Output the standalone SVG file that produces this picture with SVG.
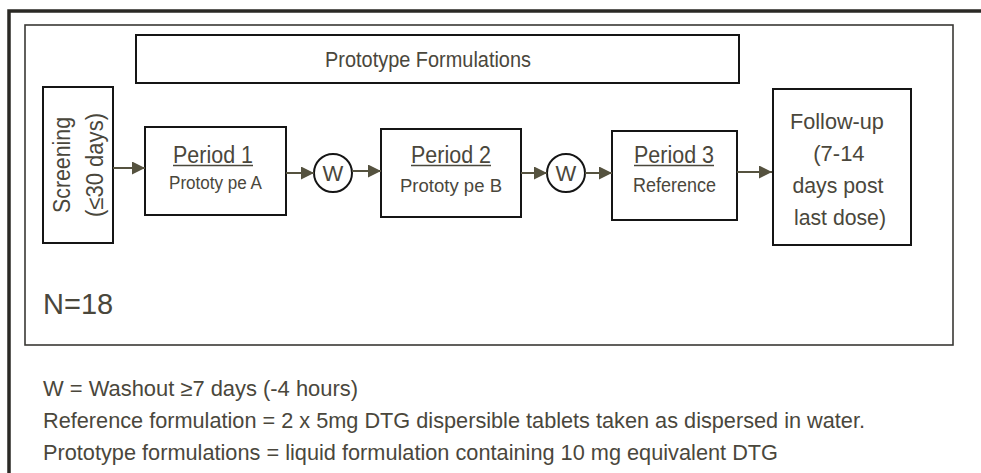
<svg xmlns="http://www.w3.org/2000/svg" width="981" height="473" viewBox="0 0 981 473">
  <style>
    .txt { font-family: "Liberation Sans", Arial, sans-serif; fill: #4a473c; }
    .box { fill: #ffffff; stroke: #151515; stroke-width: 2; }
    .lnk { stroke: #55523f; stroke-width: 2; fill: none; }
    .ul { stroke: #4a473c; stroke-width: 1.4; }
  </style>
  <defs>
    <marker id="arrow" viewBox="0 0 13 13" refX="13" refY="6.5" markerWidth="13" markerHeight="13" markerUnits="userSpaceOnUse" orient="auto">
      <path d="M0,0 L13,6.5 L0,13 Z" fill="#55523f"/>
    </marker>
  </defs>

  <rect width="981" height="473" fill="#ffffff"/>

  <!-- page frame -->
  <path d="M9,473 V11 H981" fill="none" stroke="#2a2925" stroke-width="3.5"/>

  <!-- study enclosure -->
  <rect x="25" y="25" width="928" height="320" fill="none" stroke="#3a3935" stroke-width="1.6"/>

  <g id="prototype-formulations">
    <rect class="box" x="136" y="35" width="603" height="48"/>
    <text class="txt" x="325" y="67" font-size="22" textLength="206" lengthAdjust="spacingAndGlyphs">Prototype Formulations</text>
  </g>

  <g id="screening">
    <rect class="box" x="43" y="87" width="70" height="156"/>
    <text class="txt" font-size="23" text-anchor="middle" textLength="96" lengthAdjust="spacingAndGlyphs" transform="translate(70,165) rotate(-90)">Screening</text>
    <text class="txt" font-size="23" text-anchor="middle" textLength="104" lengthAdjust="spacingAndGlyphs" transform="translate(103,165) rotate(-90)">(≤30 days)</text>
  </g>

  <g id="period-1">
    <rect class="box" x="145" y="127" width="141" height="88"/>
    <text class="txt" x="173" y="163" font-size="23" textLength="80" lengthAdjust="spacingAndGlyphs">Period 1</text>
    <line class="ul" x1="173" y1="165.5" x2="253" y2="165.5"/>
    <text class="txt" x="169" y="189" font-size="18" textLength="93" lengthAdjust="spacingAndGlyphs">Prototy pe A</text>
  </g>

  <g id="washout-1">
    <circle cx="333" cy="173" r="19" fill="#ffffff" stroke="#151515" stroke-width="2"/>
    <text class="txt" x="333" y="181" font-size="22" text-anchor="middle">W</text>
  </g>

  <g id="period-2">
    <rect class="box" x="381" y="129" width="140" height="88"/>
    <text class="txt" x="411" y="163" font-size="23" textLength="80" lengthAdjust="spacingAndGlyphs">Period 2</text>
    <line class="ul" x1="411" y1="165.5" x2="491" y2="165.5"/>
    <text class="txt" x="400" y="192" font-size="18" textLength="102" lengthAdjust="spacingAndGlyphs">Prototy pe  B</text>
  </g>

  <g id="washout-2">
    <circle cx="566" cy="173" r="19" fill="#ffffff" stroke="#151515" stroke-width="2"/>
    <text class="txt" x="566" y="181" font-size="22" text-anchor="middle">W</text>
  </g>

  <g id="period-3">
    <rect class="box" x="612" y="131" width="125" height="89"/>
    <text class="txt" x="634" y="163" font-size="23" textLength="80" lengthAdjust="spacingAndGlyphs">Period 3</text>
    <line class="ul" x1="634" y1="165.5" x2="714" y2="165.5"/>
    <text class="txt" x="633" y="192" font-size="21" textLength="83" lengthAdjust="spacingAndGlyphs">Reference</text>
  </g>

  <g id="follow-up">
    <rect class="box" x="773" y="89" width="138" height="156"/>
    <text class="txt" font-size="22" text-anchor="middle">
      <tspan x="840" y="129" textLength="94" lengthAdjust="spacingAndGlyphs">Follow-up</tspan>
      <tspan x="842" y="161">(7-14</tspan>
      <tspan x="841" y="193" textLength="91" lengthAdjust="spacingAndGlyphs">days post</tspan>
      <tspan x="840" y="225" textLength="92" lengthAdjust="spacingAndGlyphs">last dose)</tspan>
    </text>
  </g>

  <g id="connectors">
    <line class="lnk" x1="113" y1="168" x2="145" y2="168" marker-end="url(#arrow)"/>
    <line class="lnk" x1="286" y1="173" x2="314" y2="173" marker-end="url(#arrow)"/>
    <line class="lnk" x1="352" y1="171" x2="381" y2="171" marker-end="url(#arrow)"/>
    <line class="lnk" x1="521" y1="173" x2="547" y2="173" marker-end="url(#arrow)"/>
    <line class="lnk" x1="585" y1="173" x2="612" y2="173" marker-end="url(#arrow)"/>
    <line class="lnk" x1="737" y1="172" x2="772" y2="172" marker-end="url(#arrow)"/>
  </g>

  <g id="sample-size">
    <text class="txt" x="43" y="314" font-size="29">N=18</text>
  </g>

  <g id="legend">
    <text class="txt" x="43" y="396" font-size="22" textLength="315" lengthAdjust="spacingAndGlyphs">W = Washout ≥7 days (-4 hours)</text>
    <text class="txt" x="43" y="428" font-size="22" textLength="822" lengthAdjust="spacingAndGlyphs">Reference formulation  = 2 x 5mg DTG dispersible tablets  taken as dispersed in water.</text>
    <text class="txt" x="43" y="460" font-size="22" textLength="735" lengthAdjust="spacingAndGlyphs">Prototype formulations  = liquid formulation  containing  10 mg equivalent DTG</text>
  </g>
</svg>
